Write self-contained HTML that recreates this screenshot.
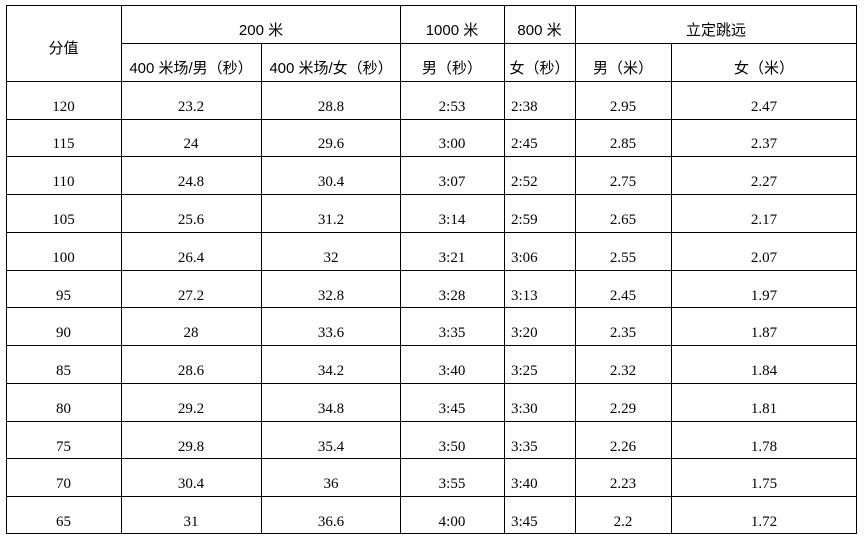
<!DOCTYPE html>
<html><head><meta charset="utf-8"><style>
body{margin:0;width:865px;height:541px;background:#fff;position:relative;overflow:hidden}
.h,.v{position:absolute;background:#000}
.h{height:1px;left:6px;width:851px}
.v{width:1px}
.t{position:absolute;text-align:center;white-space:nowrap;font-family:"Liberation Serif","Noto Serif CJK SC",serif;font-size:15px;color:#000;height:20px;line-height:20px}
.s{font-family:"Liberation Sans","Noto Sans CJK SC",sans-serif;font-size:15px}
.l{text-align:left}
</style></head><body>
<div class="h" style="top:5px"></div>
<div class="h" style="top:43px;left:121px;width:736px"></div>
<div class="h" style="top:81px"></div>
<div class="h" style="top:119px"></div>
<div class="h" style="top:156px"></div>
<div class="h" style="top:194px"></div>
<div class="h" style="top:232px"></div>
<div class="h" style="top:270px"></div>
<div class="h" style="top:307px"></div>
<div class="h" style="top:345px"></div>
<div class="h" style="top:383px"></div>
<div class="h" style="top:421px"></div>
<div class="h" style="top:458px"></div>
<div class="h" style="top:496px"></div>
<div class="h" style="top:533px"></div>
<div class="v" style="left:6px;top:5px;height:529px"></div>
<div class="v" style="left:121px;top:5px;height:529px"></div>
<div class="v" style="left:261px;top:43px;height:491px"></div>
<div class="v" style="left:400px;top:5px;height:529px"></div>
<div class="v" style="left:504px;top:5px;height:529px"></div>
<div class="v" style="left:575px;top:5px;height:529px"></div>
<div class="v" style="left:671px;top:43px;height:491px"></div>
<div class="v" style="left:856px;top:5px;height:529px"></div>

<div class="t s" style="left:6px;width:115px;top:39px">分值</div>
<div class="t s" style="left:121px;width:280px;top:21px">200 米</div>
<div class="t s" style="left:400px;width:104px;top:21px">1000 米</div>
<div class="t s" style="left:504px;width:71px;top:21px">800 米</div>
<div class="t s" style="left:575px;width:282px;top:21px">立定跳远</div>
<div class="t s" style="left:121px;width:140px;top:59px">400 米场/男（秒）</div>
<div class="t s" style="left:261px;width:140px;top:59px">400 米场/女（秒）</div>
<div class="t s" style="left:400px;width:104px;top:59px">男（秒）</div>
<div class="t s" style="left:504px;width:71px;top:59px">女（秒）</div>
<div class="t s" style="left:575px;width:96px;top:59px">男（米）</div>
<div class="t s" style="left:671px;width:186px;top:59px">女（米）</div>

<div class="t" style="left:6px;width:115px;top:97px">120</div><div class="t" style="left:121px;width:140px;top:97px">23.2</div><div class="t" style="left:261px;width:140px;top:97px">28.8</div><div class="t" style="left:400px;width:104px;top:97px">2:53</div><div class="t l" style="left:511px;top:97px">2:38</div><div class="t" style="left:575px;width:96px;top:97px">2.95</div><div class="t" style="left:671px;width:186px;top:97px">2.47</div>
<div class="t" style="left:6px;width:115px;top:134px">115</div><div class="t" style="left:121px;width:140px;top:134px">24</div><div class="t" style="left:261px;width:140px;top:134px">29.6</div><div class="t" style="left:400px;width:104px;top:134px">3:00</div><div class="t l" style="left:511px;top:134px">2:45</div><div class="t" style="left:575px;width:96px;top:134px">2.85</div><div class="t" style="left:671px;width:186px;top:134px">2.37</div>
<div class="t" style="left:6px;width:115px;top:172px">110</div><div class="t" style="left:121px;width:140px;top:172px">24.8</div><div class="t" style="left:261px;width:140px;top:172px">30.4</div><div class="t" style="left:400px;width:104px;top:172px">3:07</div><div class="t l" style="left:511px;top:172px">2:52</div><div class="t" style="left:575px;width:96px;top:172px">2.75</div><div class="t" style="left:671px;width:186px;top:172px">2.27</div>
<div class="t" style="left:6px;width:115px;top:210px">105</div><div class="t" style="left:121px;width:140px;top:210px">25.6</div><div class="t" style="left:261px;width:140px;top:210px">31.2</div><div class="t" style="left:400px;width:104px;top:210px">3:14</div><div class="t l" style="left:511px;top:210px">2:59</div><div class="t" style="left:575px;width:96px;top:210px">2.65</div><div class="t" style="left:671px;width:186px;top:210px">2.17</div>
<div class="t" style="left:6px;width:115px;top:248px">100</div><div class="t" style="left:121px;width:140px;top:248px">26.4</div><div class="t" style="left:261px;width:140px;top:248px">32</div><div class="t" style="left:400px;width:104px;top:248px">3:21</div><div class="t l" style="left:511px;top:248px">3:06</div><div class="t" style="left:575px;width:96px;top:248px">2.55</div><div class="t" style="left:671px;width:186px;top:248px">2.07</div>
<div class="t" style="left:6px;width:115px;top:286px">95</div><div class="t" style="left:121px;width:140px;top:286px">27.2</div><div class="t" style="left:261px;width:140px;top:286px">32.8</div><div class="t" style="left:400px;width:104px;top:286px">3:28</div><div class="t l" style="left:511px;top:286px">3:13</div><div class="t" style="left:575px;width:96px;top:286px">2.45</div><div class="t" style="left:671px;width:186px;top:286px">1.97</div>
<div class="t" style="left:6px;width:115px;top:323px">90</div><div class="t" style="left:121px;width:140px;top:323px">28</div><div class="t" style="left:261px;width:140px;top:323px">33.6</div><div class="t" style="left:400px;width:104px;top:323px">3:35</div><div class="t l" style="left:511px;top:323px">3:20</div><div class="t" style="left:575px;width:96px;top:323px">2.35</div><div class="t" style="left:671px;width:186px;top:323px">1.87</div>
<div class="t" style="left:6px;width:115px;top:361px">85</div><div class="t" style="left:121px;width:140px;top:361px">28.6</div><div class="t" style="left:261px;width:140px;top:361px">34.2</div><div class="t" style="left:400px;width:104px;top:361px">3:40</div><div class="t l" style="left:511px;top:361px">3:25</div><div class="t" style="left:575px;width:96px;top:361px">2.32</div><div class="t" style="left:671px;width:186px;top:361px">1.84</div>
<div class="t" style="left:6px;width:115px;top:399px">80</div><div class="t" style="left:121px;width:140px;top:399px">29.2</div><div class="t" style="left:261px;width:140px;top:399px">34.8</div><div class="t" style="left:400px;width:104px;top:399px">3:45</div><div class="t l" style="left:511px;top:399px">3:30</div><div class="t" style="left:575px;width:96px;top:399px">2.29</div><div class="t" style="left:671px;width:186px;top:399px">1.81</div>
<div class="t" style="left:6px;width:115px;top:437px">75</div><div class="t" style="left:121px;width:140px;top:437px">29.8</div><div class="t" style="left:261px;width:140px;top:437px">35.4</div><div class="t" style="left:400px;width:104px;top:437px">3:50</div><div class="t l" style="left:511px;top:437px">3:35</div><div class="t" style="left:575px;width:96px;top:437px">2.26</div><div class="t" style="left:671px;width:186px;top:437px">1.78</div>
<div class="t" style="left:6px;width:115px;top:474px">70</div><div class="t" style="left:121px;width:140px;top:474px">30.4</div><div class="t" style="left:261px;width:140px;top:474px">36</div><div class="t" style="left:400px;width:104px;top:474px">3:55</div><div class="t l" style="left:511px;top:474px">3:40</div><div class="t" style="left:575px;width:96px;top:474px">2.23</div><div class="t" style="left:671px;width:186px;top:474px">1.75</div>
<div class="t" style="left:6px;width:115px;top:512px">65</div><div class="t" style="left:121px;width:140px;top:512px">31</div><div class="t" style="left:261px;width:140px;top:512px">36.6</div><div class="t" style="left:400px;width:104px;top:512px">4:00</div><div class="t l" style="left:511px;top:512px">3:45</div><div class="t" style="left:575px;width:96px;top:512px">2.2</div><div class="t" style="left:671px;width:186px;top:512px">1.72</div>
</body></html>
